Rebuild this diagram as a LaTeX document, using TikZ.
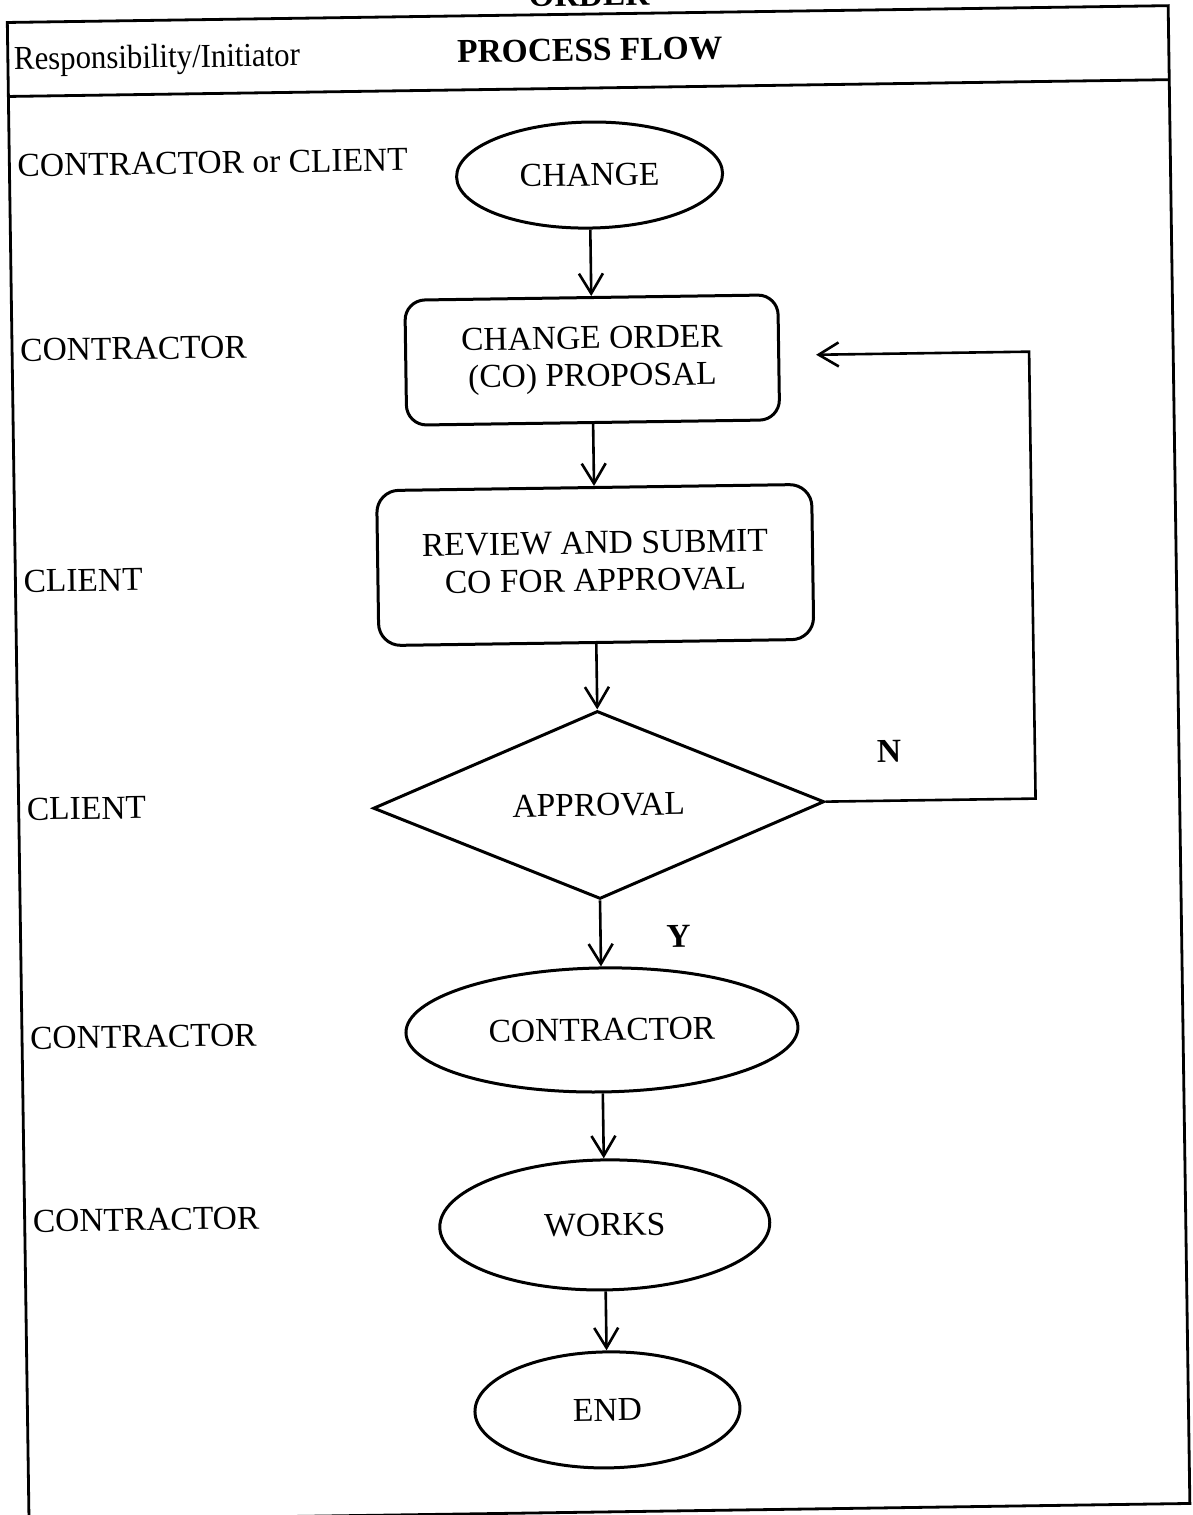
\documentclass[tikz,border=0pt]{standalone}
\usepackage{fontspec}
\setmainfont{Liberation Serif}
\usetikzlibrary{shapes.geometric,arrows.meta}
\begin{document}
\begin{tikzpicture}[x=1pt,y=-1pt,
  every node/.style={font=\fontsize{33.5}{37.5}\selectfont, inner sep=0pt},
  bold/.style={font=\fontsize{33.5}{37.5}\selectfont\bfseries},
  lbl/.style={anchor=base west},
  oval/.style={ellipse, draw, line width=3pt},
  rbox/.style={rectangle, rounded corners=20pt, draw, line width=3pt, align=center},
  decision/.style={diamond, draw, line width=3pt, shape aspect=2.4},
  arr/.style={line width=2.6pt, -{Straight Barb[length=20pt,width=24pt]}},
  frame/.style={line width=2.8pt}]
\useasboundingbox (0,0) rectangle (1192,1515);
\clip (0,0) rectangle (1192,1515);
\begin{scope}[rotate around={0.83:(596,757)}, transform shape]
  % frame
  \draw[frame] (18,14) rectangle (1179,1512);
  \draw[frame] (18,88) -- (1179,88);
  \node[bold, anchor=base] (ord) at (600,6) {ORDER};
  % header
  \node[lbl] (hresp) at (24,61.5) {\scalebox{0.92}[1]{Responsibility/Initiator}};
  \node[bold, anchor=base] (hflow) at (600,61) {PROCESS FLOW};
  % left column
  \node[lbl] (r1) at (26,168) {CONTRACTOR or CLIENT};
  \node[lbl] (r2) at (26,353) {CONTRACTOR};
  \node[lbl] (r3) at (26,584) {CLIENT};
  \node[lbl] (r4) at (26,812) {CLIENT};
  \node[lbl] (r5) at (26,1041) {CONTRACTOR};
  \node[lbl] (r6) at (26,1224) {CONTRACTOR};
  % flow
  \node[oval, minimum width=266pt, minimum height=106pt] (change) at (598,175) {CHANGE};
  \node[rbox, minimum width=373pt, minimum height=125pt] (co) at (598,360) {\raisebox{-3pt}{\begin{tabular}{@{}c@{}}CHANGE ORDER\\(CO) PROPOSAL\end{tabular}}};
  \node[rbox, rounded corners=22pt, minimum width=435pt, minimum height=155pt] (rev) at (598,565) {\raisebox{-3pt}{\begin{tabular}{@{}c@{}}REVIEW AND SUBMIT\\CO FOR APPROVAL\end{tabular}}};
  \node[decision, minimum width=451pt, minimum height=188pt] (appr) at (598,805) {APPROVAL};
  \node[oval, minimum width=392pt, minimum height=124pt] (contr) at (598,1030) {CONTRACTOR};
  \node[oval, minimum width=330pt, minimum height=130pt] (works) at (598,1225) {WORKS};
  \node[oval, minimum width=265pt, minimum height=116pt] (end) at (598,1410) {END};
  % labels
  \node[bold] (nlab) at (889,756) {N};
  \node[bold] (ylab) at (676,938) {Y};
  % connectors
  \draw[arr] (change) -- (co);
  \draw[arr] (co) -- (rev);
  \draw[arr] (rev) -- (appr);
  \draw[arr] (appr) -- (contr);
  \draw[arr] (contr) -- (works);
  \draw[arr] (works) -- (end);
  \coordinate (n1) at (1035,805);
  \coordinate (n2) at (1035,358);
  \coordinate (nret) at (822,358);
  \draw[arr] (appr.east) -- (n1) -- (n2) -- (nret);
\end{scope}
\end{tikzpicture}
\end{document}
